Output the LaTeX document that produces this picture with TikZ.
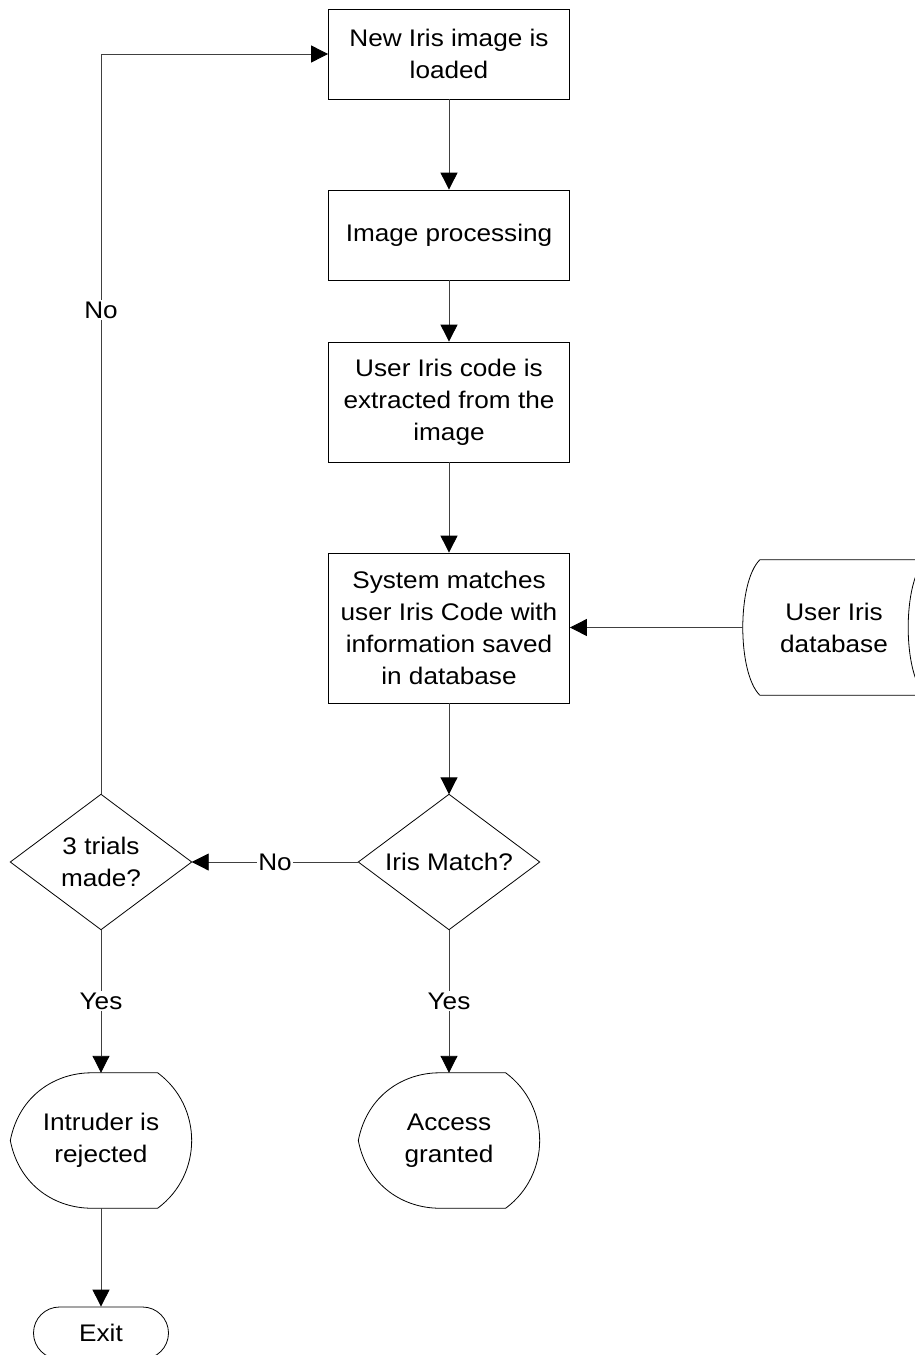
\documentclass[tikz,border=0pt]{standalone}
\usepackage{fontspec}
\setmainfont{Liberation Sans}[FakeStretch=1.09]
\usetikzlibrary{arrows.meta,calc}

% Display symbol: pointed left side, straight top and bottom, bulging right side
\newcommand\displayoutline[1]{%
  \draw[outline] (#1.west)
    .. controls ($(#1.west)+(9,-46)$) and ($(#1.north west)+(46,0)$) .. ($(#1.north west)+(81,0)$)
    -- ($(#1.north east)+(-34,0)$)
    .. controls ($(#1.north east)+(11.3,33.6)$) and ($(#1.south east)+(11.3,-33.6)$) .. ($(#1.south east)+(-34,0)$)
    -- ($(#1.south west)+(81,0)$)
    .. controls ($(#1.south west)+(46,0)$) and ($(#1.west)+(9,46)$) .. cycle;}

% Decision symbol drawn on the anchors of a frame node
\newcommand\decisionoutline[1]{%
  \draw[outline] (#1.north) -- (#1.east) -- (#1.south) -- (#1.west) -- cycle;}

\begin{document}
\begin{tikzpicture}[x=1pt,y=-1pt,
  every node/.style={font=\fontsize{24}{32}\selectfont, align=center, inner sep=0pt},
  procbox/.style={draw=black, line width=0.8pt, minimum width=241pt},
  frame/.style={draw=none, minimum width=181pt, minimum height=135pt},
  outline/.style={draw=black, line width=0.8pt},
  flow/.style={draw=black!75, line width=0.9pt, -{Triangle[length=17pt,width=17pt,black]}},
  lbl/.style={fill=white, inner sep=1.5pt}
]
\useasboundingbox (0,0) rectangle (915,1355);
\clip (0,0) rectangle (915,1355);

% process steps
\node[procbox, minimum height=90pt]  (load)    at (449,54)    {New Iris image is\\loaded};
\node[procbox, minimum height=90pt]  (proc)    at (449,235)   {Image processing};
\node[procbox, minimum height=120pt] (extract) at (449,402)   {User Iris code is\\extracted from the\\image};
\node[procbox, minimum height=150pt] (compare) at (449,628)   {System matches\\user Iris Code with\\information saved\\in database};

% stored data
\node[draw=none, minimum width=182pt, minimum height=135pt] (db) at (834,627.5) {User Iris\\database};
\draw[outline] ($(db.north west)+(17,0)$) -- (db.north east)
  .. controls ($(db.north east)+(-22.7,22.5)$) and ($(db.south east)+(-22.7,-22.5)$) .. (db.south east)
  -- ($(db.south west)+(17,0)$)
  .. controls ($(db.south west)+(-5.7,-22.5)$) and ($(db.north west)+(-5.7,22.5)$) .. cycle;

% decisions
\node[frame] (match)  at (449,862) {Iris Match?};
\node[frame] (trials) at (101,862) {3 trials\\made?};
\decisionoutline{match}
\decisionoutline{trials}

% outcomes
\node[frame] (granted)  at (449,1140.5) {Access\\granted};
\node[frame] (rejected) at (101,1140.5) {Intruder is\\rejected};
\displayoutline{granted}
\displayoutline{rejected}

% terminator
\node[draw=black, line width=0.8pt, rounded corners=26pt, minimum width=135pt, minimum height=52pt] (exit) at (101,1333) {Exit};

% connectors
\draw[flow] (load) -- (proc);
\draw[flow] (proc) -- (extract);
\draw[flow] (extract) -- (compare);
\draw[flow] (compare) -- (match);
\draw[flow] (db.west) -- (compare.east |- db.west);
\draw[flow] (match.west) -- node[lbl]{No} (trials.east);
\draw[flow] (match.south) -- node[lbl]{Yes} (granted.north);
\draw[flow] (trials.south) -- node[lbl]{Yes} (rejected.north);
\draw[flow] (rejected.south) -- (exit.north);
\coordinate (turn) at (trials.north |- load.west);
\draw[flow] (trials.north) -- node[lbl,pos=0.654]{No} (turn) -- (load.west);
\end{tikzpicture}
\end{document}
